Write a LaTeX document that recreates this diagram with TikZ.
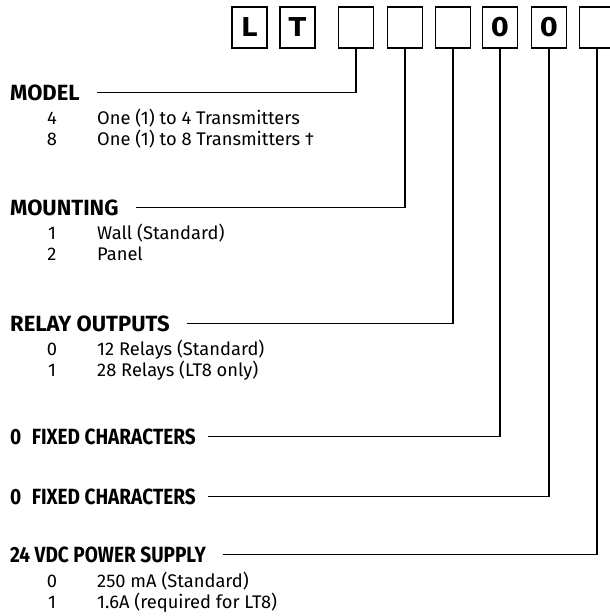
\documentclass[tikz,border=0pt]{standalone}
\usepackage{fontspec}
\setmainfont{Fira Sans}
\newfontfamily\codefont{DejaVu Sans}
\newfontfamily\narrowfont[FakeStretch=0.865]{Fira Sans}
\tikzset{
      codebox/.style={draw=black, line width=1.8, minimum width=35, minimum height=41, inner sep=0,
            font=\codefont\bfseries\fontsize{26}{26}\selectfont},
      heading/.style={anchor=base west, inner sep=0, font=\bfseries\fontsize{22}{22}\selectfont},
      fixhead/.style={heading, font=\narrowfont\bfseries\fontsize{22}{22}\selectfont},
      optnum/.style={anchor=base, inner sep=0, font=\fontsize{18.3}{18.3}\selectfont},
      opttext/.style={anchor=base west, inner sep=0, font=\fontsize{18.3}{18.3}\selectfont},
      lead/.style={draw=black, line width=1.6},
}
\begin{document}
\begin{tikzpicture}[x=1pt,y=-1pt]
        \useasboundingbox (0,0) rectangle (610,616);

        % The code boxes
        \node[codebox] (bL) at (249.5,27.5) {L};
        \node[codebox] (bT) at (297.5,27.5) {T};
        \node[codebox] (b1) at (356,27.5) {};
        \node[codebox] (b2) at (405,27.5) {};
        \node[codebox] (b3) at (453,27.5) {};
        \node[codebox] (b4) at (500,27.5) {0};
        \node[codebox] (b5) at (549,27.5) {0};
        \node[codebox] (b6) at (597,27.5) {};

        % The headings
        \node[heading] (model) at (10,100) {MODEL};
        \node[heading] (mounting) at (10,215) {MOUNTING};
        \node[heading] (relay) at (10,331) {RELAY OUTPUTS};
        \node[fixhead] (fixa) at (10,444) {0\hspace{10.5pt}FIXED CHARACTERS};
        \node[fixhead] (fixb) at (10,504) {0\hspace{10.5pt}FIXED CHARACTERS};
        \node[fixhead] (power) at (10,562) {24 VDC POWER SUPPLY};

        % The options
        \node[optnum] (m4) at (52,124) {4};
        \node[opttext] (m4t) at (97,124) {One (1) to 4 Transmitters};
        \node[optnum] (m8) at (52,145) {8};
        \node[opttext] (m8t) at (97,145) {One (1) to 8 Transmitters †};

        \node[optnum] (w1) at (52,239) {1};
        \node[opttext] (w1t) at (97,239) {Wall (Standard)};
        \node[optnum] (w2) at (52,260) {2};
        \node[opttext] (w2t) at (97,260) {Panel};

        \node[optnum] (r0) at (52,355) {0};
        \node[opttext] (r0t) at (97,355) {12 Relays (Standard)};
        \node[optnum] (r1) at (52,376) {1};
        \node[opttext] (r1t) at (97,376) {28 Relays (LT8 only)};

        \node[optnum] (p0) at (52,587) {0};
        \node[opttext] (p0t) at (97,587) {250 mA (Standard)};
        \node[optnum] (p1) at (52,608) {1};
        \node[opttext] (p1t) at (97,608) {1.6A (required for LT8)};

        % The leads
        \draw[lead] ([xshift=17pt]model.east) -| (b1.south);
        \draw[lead] ([xshift=17pt]mounting.east) -| (b2.south);
        \draw[lead] ([xshift=17pt]relay.east) -| (b3.south);
        \draw[lead] ([xshift=12pt]fixa.east) -| (b4.south);
        \draw[lead] ([xshift=12pt]fixb.east) -| (b5.south);
        \draw[lead] ([xshift=17pt]power.east) -| (b6.south);

\end{tikzpicture}
\end{document}
